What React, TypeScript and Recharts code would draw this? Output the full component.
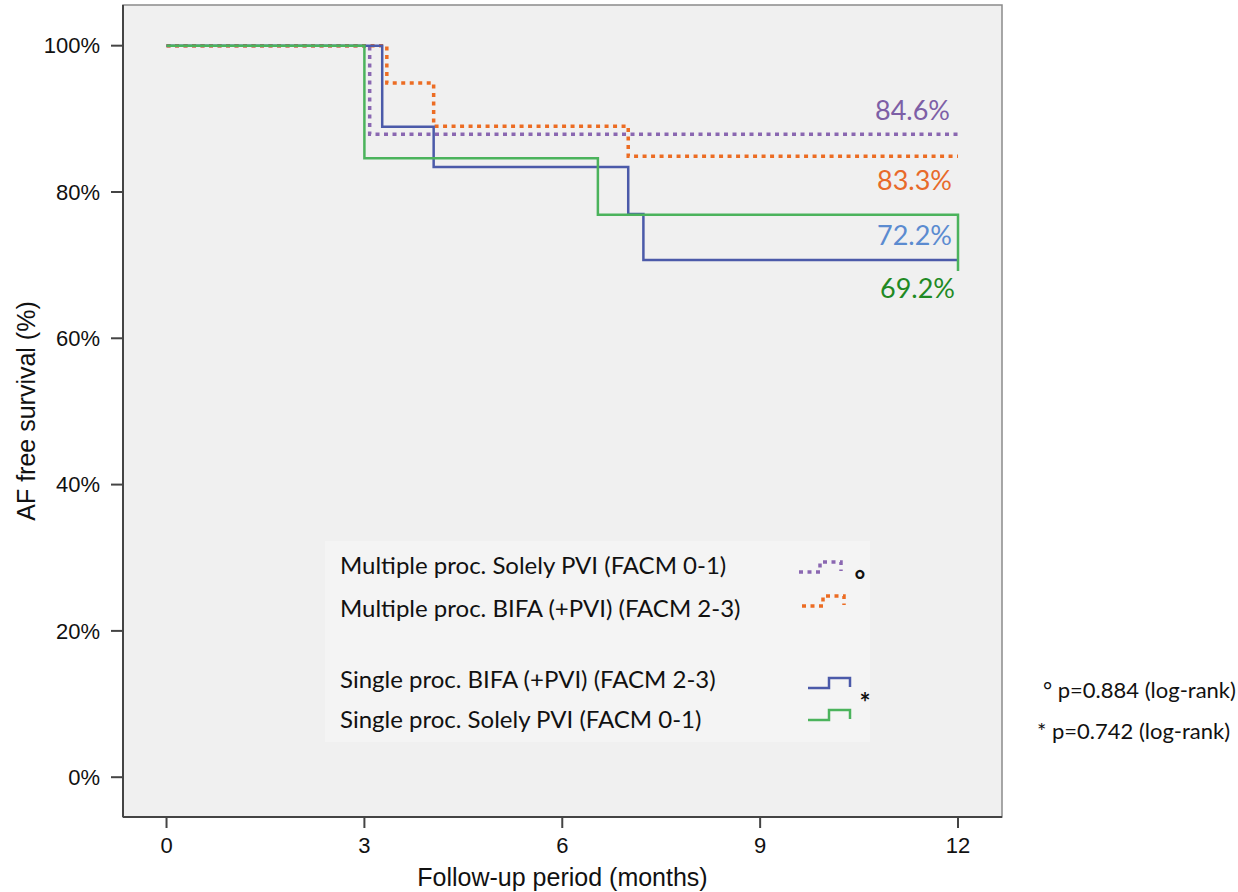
import React from "react";
import { LineChart, Line, XAxis, YAxis, CartesianGrid, ReferenceArea } from "recharts";

// Kaplan-Meier steps: t = months, s = % AF free
const singleSolelyPvi = [
  { t: 0, s: 100 },
  { t: 3.0, s: 84.6 },
  { t: 6.54, s: 76.9 },
  { t: 12, s: 69.2 },
];
const singleBifa = [
  { t: 0, s: 100 },
  { t: 3.27, s: 88.9 },
  { t: 4.05, s: 83.4 },
  { t: 7.0, s: 77.0 },
  { t: 7.23, s: 70.7 },
  { t: 12, s: 70.7 },
];
const multipleSolelyPvi = [
  { t: 0, s: 100 },
  { t: 3.08, s: 87.9 },
  { t: 12, s: 87.9 },
];
const multipleBifa = [
  { t: 0, s: 100 },
  { t: 3.34, s: 94.9 },
  { t: 4.05, s: 89.0 },
  { t: 7.0, s: 84.9 },
  { t: 12, s: 84.9 },
];

const xTicks = [0, 3, 6, 9, 12];
const yTicks = [0, 20, 40, 60, 80, 100];

const endLabels = {
  multipleSolelyPvi: "84.6%",
  multipleBifa: "83.3%",
  singleBifa: "72.2%",
  singleSolelyPvi: "69.2%",
};

const legendRows = [
  { text: "Multiple proc. Solely PVI (FACM 0-1)", y: 574 },
  { text: "Multiple proc. BIFA (+PVI) (FACM 2-3)", y: 617 },
  { text: "Single proc. BIFA (+PVI) (FACM 2-3)", y: 688 },
  { text: "Single proc. Solely PVI (FACM 0-1)", y: 728 },
];

const PURPLE = "#8a67b1";
const ORANGE = "#ec6c23";
const BLUE = "#4b5aa9";
const GREEN = "#4bb35c";

const X_MIN = -0.66;
const X_MAX = 12.667;
const Y_MIN = -5.44;
const Y_MAX = 105.56;

const lato = "Lato, 'Open Sans', sans-serif";
const arial = "'Liberation Sans', Arial, sans-serif";

const endLabel = (data: { t: number }[], text: string, color: string, dx: number, dy: number) =>
  (props: any) => {
    if (props.index !== data.length - 1) return null;
    return (
      <text
        key="end"
        x={props.x + dx}
        y={props.y + dy}
        textAnchor="end"
        fill={color}
        fontFamily={lato}
        fontSize={27}
      >
        {text}
      </text>
    );
  };

const Step = ({ x, y, color, dashed }: { x: number; y: number; color: string; dashed?: boolean }) => (
  <polyline
    points={`${x},${y} ${x + 21},${y} ${x + 21},${y - 10} ${x + 42},${y - 10} ${x + 42},${y - 1}`}
    fill="none"
    stroke={color}
    strokeWidth={dashed ? 3.5 : 2.5}
    strokeDasharray={dashed ? "4 4.5" : undefined}
  />
);

export default function App() {
  return (
    <div style={{ position: "absolute", left: 0, top: 0 }}>
      <LineChart
        width={1238}
        height={892}
        margin={{ top: 5, right: 236, bottom: 35, left: 63 }}
      >
        <CartesianGrid horizontal={false} vertical={false} fill="#f0f0f0" />
        <ReferenceArea
          x1={X_MIN}
          x2={X_MAX}
          y1={Y_MIN}
          y2={Y_MAX}
          fill="none"
          stroke="#8a8a8a"
          strokeWidth={1.5}
          ifOverflow="visible"
        />
        <XAxis
          type="number"
          dataKey="t"
          domain={[X_MIN, X_MAX]}
          ticks={xTicks}
          allowDataOverflow
          height={40}
          tickSize={11}
          tickMargin={9}
          stroke="#444"
          strokeWidth={2}
          tick={{ fill: "#111", fontSize: 22, fontFamily: arial }}
          label={{
            value: "Follow-up period (months)",
            position: "insideBottom",
            offset: -29,
            fill: "#111",
            fontSize: 25,
            fontFamily: arial,
          }}
        />
        <YAxis
          type="number"
          domain={[Y_MIN, Y_MAX]}
          ticks={yTicks}
          allowDataOverflow
          width={60}
          tickSize={12}
          tickMargin={11}
          stroke="#444"
          strokeWidth={2}
          tickFormatter={(v: number) => `${v}%`}
          tick={{ fill: "#111", fontSize: 22, fontFamily: arial }}
          label={{
            value: "AF free survival (%)",
            angle: -90,
            position: "insideLeft",
            offset: -37,
            fill: "#111",
            fontSize: 25,
            fontFamily: arial,
            style: { textAnchor: "middle" },
          }}
        />
        <Line
          data={multipleSolelyPvi}
          dataKey="s"
          type="stepAfter"
          stroke={PURPLE}
          strokeWidth={3.5}
          strokeDasharray="4 4.5"
          dot={false}
          isAnimationActive={false}
          label={endLabel(multipleSolelyPvi, endLabels.multipleSolelyPvi, "#7d5fa6", -8, -14)}
        />
        <Line
          data={multipleBifa}
          dataKey="s"
          type="stepAfter"
          stroke={ORANGE}
          strokeWidth={3.5}
          strokeDasharray="4 4.5"
          dot={false}
          isAnimationActive={false}
          label={endLabel(multipleBifa, endLabels.multipleBifa, "#e86a2a", -6, 34)}
        />
        <Line
          data={singleBifa}
          dataKey="s"
          type="stepAfter"
          stroke={BLUE}
          strokeWidth={2.5}
          dot={false}
          isAnimationActive={false}
          label={endLabel(singleBifa, endLabels.singleBifa, "#5b8bd0", -6, -15)}
        />
        <Line
          data={singleSolelyPvi}
          dataKey="s"
          type="stepAfter"
          stroke={GREEN}
          strokeWidth={2.5}
          dot={false}
          isAnimationActive={false}
          label={endLabel(singleSolelyPvi, endLabels.singleSolelyPvi, "#1f8a24", -3, 27)}
        />

        {/* legend panel */}
        <rect x={325} y={541} width={545} height={201} fill="#f4f4f4" />
        {legendRows.map((r) => (
          <text key={r.text} x={340} y={r.y} fill="#111" fontFamily={lato} fontSize={24}>
            {r.text}
          </text>
        ))}
        <Step x={799} y={572} color={PURPLE} dashed />
        <Step x={802} y={606} color={ORANGE} dashed />
        <Step x={808} y={688} color={BLUE} />
        <Step x={808} y={720} color={GREEN} />
        <text x={860} y={590} textAnchor="middle" fill="#111" fontFamily={lato} fontSize={26} fontWeight={700}>°</text>
        <text x={865} y={712} textAnchor="middle" fill="#111" fontFamily={lato} fontSize={26} fontWeight={700}>*</text>

        <text x={1043} y={698} fill="#111" fontFamily={lato} fontSize={22}>° p=0.884 (log-rank)</text>
        <text x={1037} y={739} fill="#111" fontFamily={lato} fontSize={22}>* p=0.742 (log-rank)</text>
      </LineChart>
    </div>
  );
}
